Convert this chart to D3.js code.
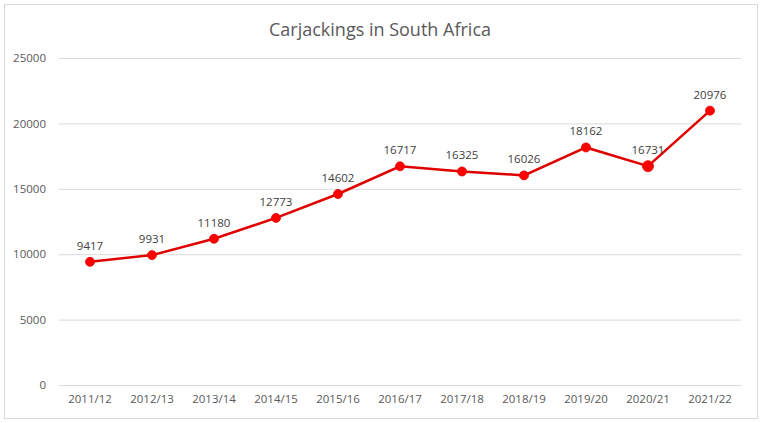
<!DOCTYPE html>
<html><head><meta charset="utf-8">
<script src="https://cdn.jsdelivr.net/npm/d3@7"></script>
<style>body{margin:0;background:#fff;}svg{display:block;font-family:"Open Sans",sans-serif;}</style>
</head><body><svg id="c" width="763" height="423"></svg>
<script>
const categories = ["2011/12","2012/13","2013/14","2014/15","2015/16","2016/17","2017/18","2018/19","2019/20","2020/21","2021/22"];
const values = [9417,9931,11180,12773,14602,16717,16325,16026,18162,16731,20976];
const yTicks = [0,5000,10000,15000,20000,25000];
const title = "Carjackings in South Africa";

const svg = d3.select("#c");
svg.append("rect").attr("x",4.5).attr("y",4.5).attr("width",753).attr("height",414)
  .attr("fill","#fff").attr("stroke","#d9d9d9");

const L=59,R=741,T=58,B=385;
const x = d3.scaleBand().domain(categories).range([L,R]);
const y = d3.scaleLinear().domain([0,25000]).range([B,T]);

svg.append("text").attr("x",380).attr("y",36).attr("text-anchor","middle")
  .attr("font-size",18).attr("fill","#595959").text(title);

const gy = svg.append("g").attr("transform",`translate(${L},0)`)
  .call(d3.axisLeft(y).tickValues(yTicks).tickSize(-(R-L)).tickPadding(13).tickFormat(d3.format("d")));
gy.select(".domain").remove();
gy.selectAll(".tick line").attr("stroke","#d9d9d9");
gy.selectAll(".tick text").attr("font-size",11.5).attr("fill","#595959").attr("font-family","'Open Sans',sans-serif");

const gx = svg.append("g").attr("transform",`translate(0,${B})`)
  .call(d3.axisBottom(x).tickSize(0).tickPadding(10));
gx.select(".domain").attr("stroke","#d9d9d9");
gx.selectAll(".tick text").attr("font-size",11.5).attr("fill","#595959").attr("font-family","'Open Sans',sans-serif");

const cx = d=>x(d)+x.bandwidth()/2;
const pts = categories.map((c,i)=>({c,v:values[i]}));
svg.append("path").datum(pts)
  .attr("d",d3.line().x(d=>cx(d.c)).y(d=>y(d.v)))
  .attr("fill","none").attr("stroke","#e00000").attr("stroke-width",2.5);
svg.selectAll("circle.m").data(pts).join("circle").attr("class","m")
  .attr("cx",d=>cx(d.c)).attr("cy",d=>y(d.v))
  .attr("r",(d,i)=>i===9?5.5:4.5).attr("fill","#ff0000").attr("stroke","#e00000").attr("stroke-width",0.8);
svg.selectAll("text.lbl").data(pts).join("text").attr("class","lbl")
  .attr("x",d=>cx(d.c)).attr("y",d=>y(d.v)-12).attr("text-anchor","middle")
  .attr("font-size",11.5).attr("fill","#404040").text(d=>d.v);
</script></body></html>
